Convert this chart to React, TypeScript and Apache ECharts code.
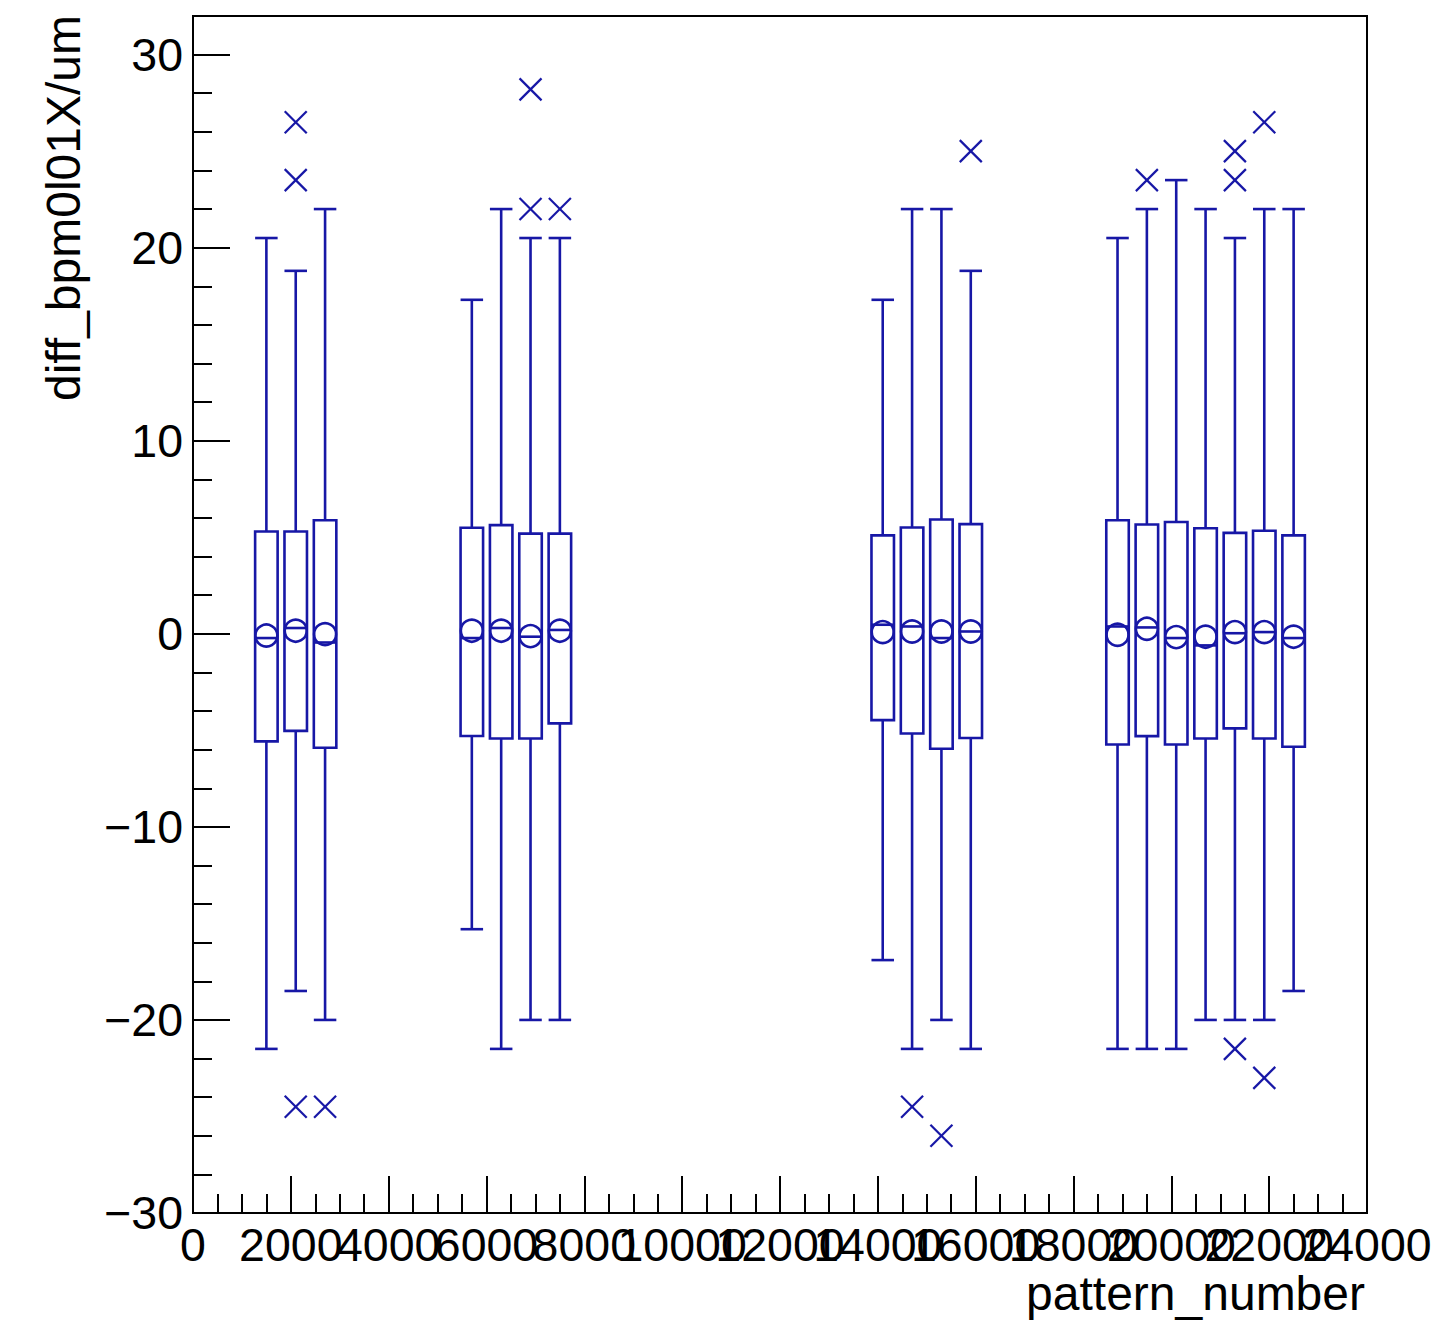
import { useEffect, useRef } from "react";
import * as echarts from "echarts";

// pattern_number bin centres
const xCenters = [1500, 2100, 2700, 5700, 6300, 6900, 7500, 14100, 14700, 15300, 15900, 18900, 19500, 20100, 20700, 21300, 21900, 22500];
// candle statistics (diff_bpm0l01X / um)
const whiskerLow = [-21.5, -18.5, -20, -15.3, -21.5, -20, -20, -16.9, -21.5, -20, -21.5, -21.5, -21.5, -21.5, -20, -20, -20, -18.5];
const q1 = [-5.57, -5.03, -5.9, -5.29, -5.42, -5.42, -4.64, -4.47, -5.16, -5.95, -5.4, -5.73, -5.3, -5.73, -5.42, -4.9, -5.42, -5.85];
const median = [-0.22, 0.3, -0.45, -0.22, 0.3, -0.15, 0.2, 0.47, 0.38, -0.22, 0.12, 0.38, 0.33, -0.22, -0.6, 0.03, 0.09, -0.22];
const q3 = [5.3, 5.3, 5.88, 5.49, 5.63, 5.19, 5.19, 5.1, 5.51, 5.92, 5.68, 5.88, 5.66, 5.79, 5.47, 5.23, 5.34, 5.1];
const whiskerHigh = [20.5, 18.8, 22, 17.3, 22, 20.5, 20.5, 17.3, 22, 22, 18.8, 20.5, 22, 23.5, 22, 20.5, 22, 22];
const mean = [-0.09, 0.16, -0.02, 0.16, 0.16, -0.12, 0.16, 0.09, 0.12, 0.12, 0.12, -0.05, 0.26, -0.17, -0.15, 0.09, 0.09, -0.15];

// outliers
const outlierX = [2100, 2100, 2100, 2700, 6900, 6900, 7500, 14700, 15300, 15900, 19500, 21300, 21300, 21300, 21900, 21900];
const outlierY = [26.5, 23.5, -24.5, -24.5, 28.2, 22, 22, -24.5, -26, 25, 23.5, 25, 23.5, -21.5, 26.5, -23];

const xTitle = "pattern_number";
const yTitle = "diff_bpm0l01X/um";

const BOX_WIDTH = 460; // in pattern_number units
const COLOR = "#1717a6";
const FONT = "Liberation Sans, Arial, Helvetica, sans-serif";
const LABEL_SIZE = 46.5;
const TITLE_SIZE = 48;

export default function App() {
  const ref = useRef<HTMLDivElement>(null);

  useEffect(() => {
    if (!ref.current) return;
    const chart = echarts.init(ref.current, null, { renderer: "svg" });

    const boxData = xCenters.map((x, i) => [x, whiskerLow[i], q1[i], median[i], q3[i], whiskerHigh[i], mean[i]]);
    const outData = outlierX.map((x, i) => [x, outlierY[i]]);

    const lineStyle = { stroke: COLOR, lineWidth: 2.6, fill: "none" };

    const xLabelBase = {
      show: true,
      color: "#000",
      fontSize: LABEL_SIZE,
      fontFamily: FONT,
      margin: 8,
      hideOverlap: false,
      interval: 0,
    };

    const option: any = {
      animation: false,
      backgroundColor: "#ffffff",
      grid: {
        left: 193,
        right: 71,
        top: 16,
        bottom: 110,
        show: true,
        borderColor: "#000",
        borderWidth: 2,
        backgroundColor: "transparent",
        containLabel: false,
        outerBoundsMode: "none",
      },
      xAxis: [
        {
          type: "value",
          min: 0,
          max: 24000,
          interval: 2000,
          position: "bottom",
          axisLine: { show: true, onZero: false, lineStyle: { color: "#000", width: 2 } },
          axisTick: { show: true, inside: true, length: 37, lineStyle: { color: "#000", width: 2 } },
          minorTick: { show: true, splitNumber: 4, length: 19, lineStyle: { color: "#000", width: 2 } },
          splitLine: { show: false },
          minorSplitLine: { show: false },
          axisLabel: {
            ...xLabelBase,
            formatter: (v: number) => (Math.round(v / 2000) % 2 === 0 ? String(v) : ""),
          },
        },
        {
          type: "value",
          min: 0,
          max: 24000,
          interval: 2000,
          position: "bottom",
          axisLine: { show: false },
          axisTick: { show: false },
          splitLine: { show: false },
          axisLabel: {
            ...xLabelBase,
            formatter: (v: number) => (Math.round(v / 2000) % 2 === 1 ? String(v) : ""),
          },
        },
      ],
      yAxis: [
        {
          type: "value",
          min: -30,
          max: 32,
          interval: 2,
          position: "left",
          axisLine: { show: true, onZero: false, lineStyle: { color: "#000", width: 2 } },
          axisTick: { show: true, inside: true, length: 19, lineStyle: { color: "#000", width: 2 } },
          splitLine: { show: false },
          axisLabel: {
            show: true,
            color: "#000",
            fontSize: LABEL_SIZE,
            fontFamily: FONT,
            margin: 10,
            hideOverlap: false,
            formatter: (v: number) =>
              Math.abs(v % 10) < 1e-9 && v <= 30 ? String(v).replace("-", "\u2212") : "",
          },
        },
        {
          type: "value",
          min: -30,
          max: 32,
          interval: 10,
          position: "left",
          axisLine: { show: false },
          axisTick: { show: true, inside: true, length: 37, lineStyle: { color: "#000", width: 2 } },
          splitLine: { show: false },
          axisLabel: { show: false },
        },
      ],
      series: [
        {
          type: "custom",
          name: "candles",
          xAxisIndex: 0,
          yAxisIndex: 0,
          data: boxData,
          encode: { x: 0, y: [1, 2, 3, 4, 5, 6] },
          clip: false,
          renderItem: (params: any, api: any) => {
            const x = api.value(0);
            const pLo = api.coord([x, api.value(1)]);
            const pQ1 = api.coord([x, api.value(2)]);
            const pMed = api.coord([x, api.value(3)]);
            const pQ3 = api.coord([x, api.value(4)]);
            const pHi = api.coord([x, api.value(5)]);
            const pMean = api.coord([x, api.value(6)]);
            const half = api.size([BOX_WIDTH, 0])[0] / 2;
            const cx = pLo[0];
            return {
              type: "group",
              children: [
                { type: "line", shape: { x1: cx, y1: pLo[1], x2: cx, y2: pQ1[1] }, style: lineStyle },
                { type: "line", shape: { x1: cx, y1: pQ3[1], x2: cx, y2: pHi[1] }, style: lineStyle },
                { type: "line", shape: { x1: cx - half, y1: pLo[1], x2: cx + half, y2: pLo[1] }, style: lineStyle },
                { type: "line", shape: { x1: cx - half, y1: pHi[1], x2: cx + half, y2: pHi[1] }, style: lineStyle },
                {
                  type: "rect",
                  shape: { x: cx - half, y: pQ3[1], width: 2 * half, height: pQ1[1] - pQ3[1] },
                  style: lineStyle,
                },
                { type: "line", shape: { x1: cx - half, y1: pMed[1], x2: cx + half, y2: pMed[1] }, style: lineStyle },
                { type: "circle", shape: { cx, cy: pMean[1], r: 11 }, style: lineStyle },
              ],
            };
          },
        },
        {
          type: "custom",
          name: "outliers",
          xAxisIndex: 0,
          yAxisIndex: 0,
          data: outData,
          encode: { x: 0, y: 1 },
          clip: false,
          renderItem: (params: any, api: any) => {
            const p = api.coord([api.value(0), api.value(1)]);
            const s = 11;
            const st = { stroke: COLOR, lineWidth: 2.2, fill: "none" };
            return {
              type: "group",
              children: [
                { type: "line", shape: { x1: p[0] - s, y1: p[1] - s, x2: p[0] + s, y2: p[1] + s }, style: st },
                { type: "line", shape: { x1: p[0] - s, y1: p[1] + s, x2: p[0] + s, y2: p[1] - s }, style: st },
              ],
            };
          },
        },
      ],
      graphic: [
        {
          type: "text",
          x: 1365,
          y: 1293,
          style: {
            text: xTitle,
            fill: "#000",
            font: `${TITLE_SIZE}px ${FONT}`,
            textAlign: "right",
            textVerticalAlign: "middle",
            verticalAlign: "middle",
          },
        },
        {
          type: "text",
          x: 63,
          y: 15,
          rotation: Math.PI / 2,
          style: {
            text: yTitle,
            fill: "#000",
            font: `${TITLE_SIZE}px ${FONT}`,
            textAlign: "right",
            textVerticalAlign: "middle",
            verticalAlign: "middle",
          },
        },
      ],
    };

    chart.setOption(option);
    return () => {
      chart.dispose();
    };
  }, []);

  return (
    <div
      ref={ref}
      style={{ position: "absolute", left: 0, top: 0, width: 1438, height: 1323, background: "#fff" }}
    />
  );
}
